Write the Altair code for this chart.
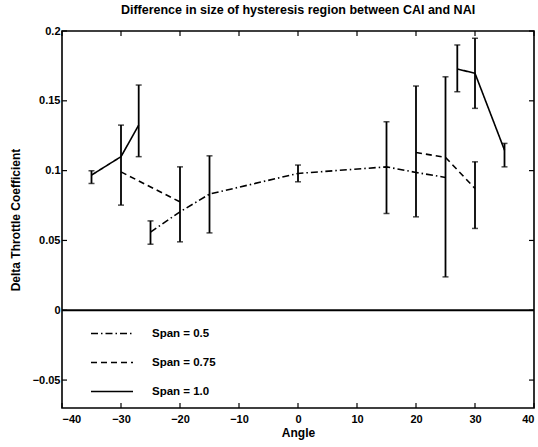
import altair as alt
import pandas as pd

# ---- data ----
series_names = ["Span = 0.5", "Span = 0.75", "Span = 1.0"]

span05_x = [-25, -20, -15, 0, 15, 20, 25]
span05_y = [0.056, 0.0705, 0.0832, 0.098, 0.1027, 0.0987, 0.0951]
span05_seg = [0, 0, 0, 0, 0, 0, 0]

span075_x = [-30, -20, 20, 25, 30]
span075_y = [0.0991, 0.0776, 0.113, 0.1095, 0.0872]
span075_seg = [0, 0, 1, 1, 1]

span10_x = [-35, -30, -27, 27, 30, 35]
span10_y = [0.0968, 0.110, 0.1326, 0.1728, 0.1697, 0.1147]
span10_seg = [0, 0, 0, 1, 1, 1]

# error bars (angle, low, high)
bar_x = [-35, -30, -27, -25, -20, -15, 0, 15, 20, 25, 27, 30, 30, 35]
bar_lo = [0.0908, 0.0753, 0.110, 0.0473, 0.049, 0.0554, 0.092, 0.0693, 0.0669, 0.0239, 0.1565, 0.1446, 0.0586, 0.1027]
bar_hi = [0.0999, 0.1326, 0.1613, 0.064, 0.1027, 0.1106, 0.104, 0.135, 0.1606, 0.1672, 0.190, 0.1948, 0.1063, 0.1195]

x_ticks = [-40, -30, -20, -10, 0, 10, 20, 30, 40]
y_ticks = [-0.05, 0, 0.05, 0.1, 0.15, 0.2]

title_text = "Difference in size of hysteresis region between CAI and NAI"
x_title = "Angle"
y_title = "Delta Throttle Coefficient"

# ---- tables ----
rows = []
for name, xs, ys, segs in [
    (series_names[0], span05_x, span05_y, span05_seg),
    (series_names[1], span075_x, span075_y, span075_seg),
    (series_names[2], span10_x, span10_y, span10_seg),
]:
    for xv, yv, sg in zip(xs, ys, segs):
        rows.append({"series": name, "seg": f"{name}-{sg}", "angle": xv, "delta": yv})
lines_df = pd.DataFrame(rows)
bars_df = pd.DataFrame({"angle": bar_x, "lo": bar_lo, "hi": bar_hi})
xt_df = pd.DataFrame({"t": x_ticks})
yt_df = pd.DataFrame({"t": y_ticks})

W, H = 472, 377
FONT = "Liberation Sans"

xscale = alt.Scale(domain=[-40, 40], nice=False, zero=False)
yscale = alt.Scale(domain=[-0.07, 0.2], nice=False, zero=False)

xaxis = alt.Axis(values=x_ticks, format="d", title=x_title, grid=False, domain=False,
                 ticks=False, tickSize=0, labelPadding=5, titlePadding=3,
                 labelFont=FONT, labelFontSize=11, labelFontWeight="bold", labelColor="black",
                 titleFont=FONT, titleFontSize=12, titleFontWeight="bold", titleColor="black")
yaxis = alt.Axis(values=y_ticks, format="~g", title=y_title, grid=False, domain=False,
                 ticks=False, tickSize=0, labelPadding=2,
                 titleX=-47, titleY=H / 2, titleBaseline="middle", titleAngle=-90,
                 labelFont=FONT, labelFontSize=11, labelFontWeight="bold", labelColor="black",
                 titleFont=FONT, titleFontSize=12, titleFontWeight="bold", titleColor="black")

lines = alt.Chart(lines_df).mark_line(color="black", strokeWidth=1.6).encode(
    x=alt.X("angle:Q", scale=xscale, axis=xaxis),
    y=alt.Y("delta:Q", scale=yscale, axis=yaxis),
    strokeDash=alt.StrokeDash(
        "series:N",
        scale=alt.Scale(domain=series_names, range=[[7, 3, 1.5, 3], [6, 4], [1, 0]]),
        legend=alt.Legend(
            title=None, orient="none", legendX=38.5, legendY=291,
            symbolType="M-2,0H2", symbolSize=441, symbolStrokeWidth=1.6,
            symbolStrokeColor="black", symbolFillColor="transparent",
            labelFont=FONT, labelFontSize=11.5, labelFontWeight="bold", labelColor="black",
            labelOffset=28.5, rowPadding=12, padding=0,
        ),
    ),
    detail="seg:N",
    order="angle:Q",
)

bars = alt.Chart(bars_df).mark_rule(color="black", strokeWidth=1.8).encode(
    x="angle:Q", y="lo:Q", y2="hi:Q")
caps_lo = alt.Chart(bars_df).mark_tick(color="black", orient="horizontal", size=6, thickness=1.5).encode(
    x="angle:Q", y="lo:Q")
caps_hi = alt.Chart(bars_df).mark_tick(color="black", orient="horizontal", size=6, thickness=1.5).encode(
    x="angle:Q", y="hi:Q")

zero = alt.Chart(pd.DataFrame({"z": [0]})).mark_rule(color="black", strokeWidth=2).encode(
    y="z:Q")

tick_style = dict(color="black", strokeWidth=1.2)
t_bottom = alt.Chart(xt_df).mark_rule(**tick_style).encode(x="t:Q", y=alt.value(H), y2=alt.value(H - 5))
t_top = alt.Chart(xt_df).mark_rule(**tick_style).encode(x="t:Q", y=alt.value(0), y2=alt.value(5))
t_left = alt.Chart(yt_df).mark_rule(**tick_style).encode(y="t:Q", x=alt.value(0), x2=alt.value(5))
t_right = alt.Chart(yt_df).mark_rule(**tick_style).encode(y="t:Q", x=alt.value(W), x2=alt.value(W - 5))

chart = alt.layer(lines, bars, caps_lo, caps_hi, zero, t_bottom, t_top, t_left, t_right).properties(
    width=W, height=H,
    title=alt.TitleParams(title_text, font=FONT, fontSize=12.5, fontWeight="bold", color="black",
                          anchor="middle", offset=9),
    autosize=alt.AutoSizeParams(type="none"),
    padding={"left": 62, "top": 31, "right": 4, "bottom": 39},
    background="white",
).configure_view(stroke="black", strokeWidth=1.6)

chart.save("out.html", embed_options={"renderer": "svg", "actions": False})
